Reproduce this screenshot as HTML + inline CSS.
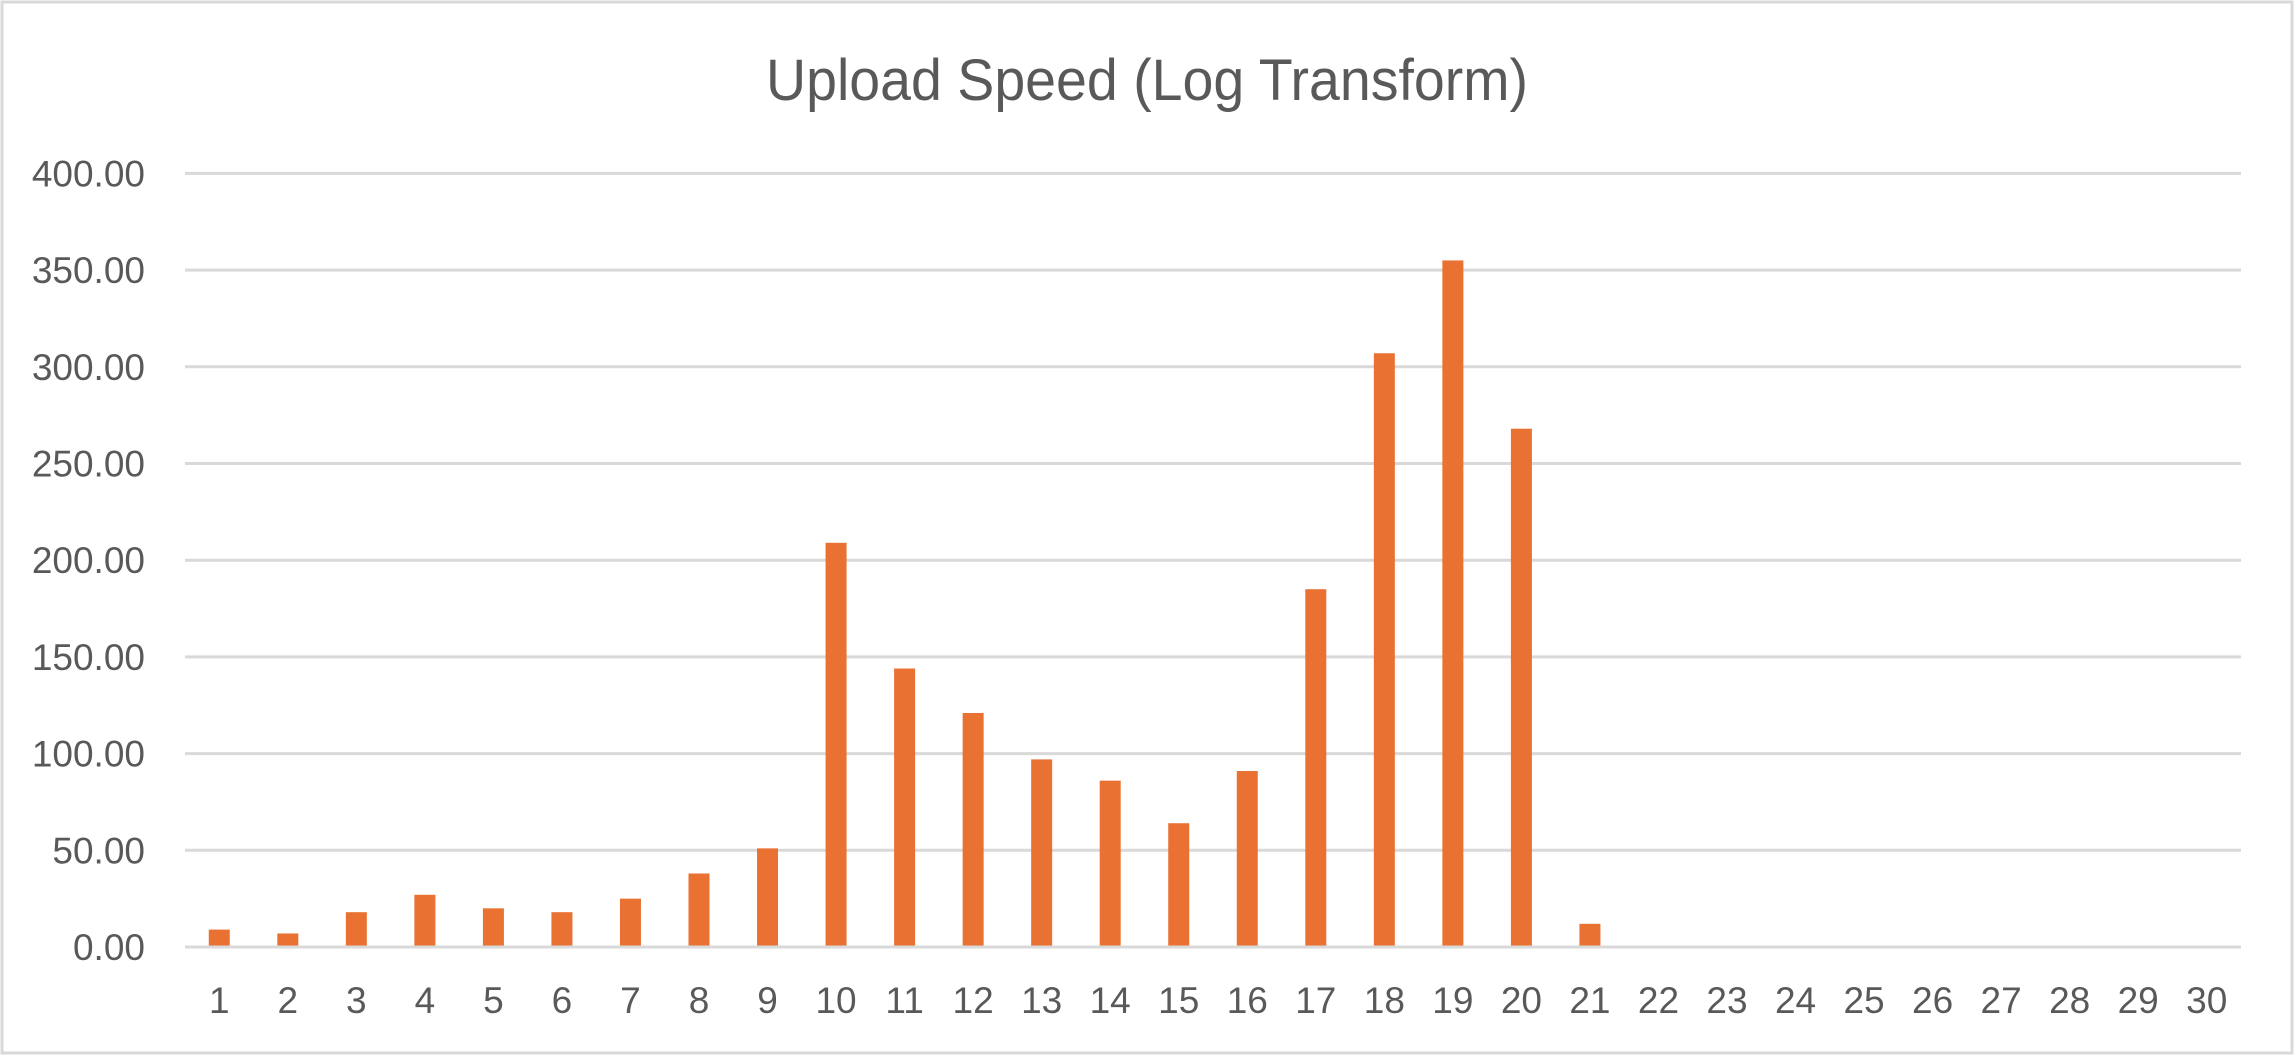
<!DOCTYPE html>
<html><head><meta charset="utf-8"><style>
html,body{margin:0;padding:0;background:#fff;}
svg{display:block;font-family:"Liberation Sans",Arial,sans-serif;}
</style></head><body>
<svg id="chart" width="2294" height="1055" viewBox="0 0 2294 1055" xmlns="http://www.w3.org/2000/svg">
<rect x="2" y="2" width="2290" height="1051" fill="#fff" stroke="#d9d9d9" stroke-width="3"/>
<text x="1147" y="100" text-anchor="middle" font-size="58" fill="#595959" textLength="762" lengthAdjust="spacingAndGlyphs">Upload Speed (Log Transform)</text>
<g id="grid"></g><g id="bars"></g><g id="ylab"></g><g id="xlab"></g>
</svg>
<script>
const categories=[1,2,3,4,5,6,7,8,9,10,11,12,13,14,15,16,17,18,19,20,21,22,23,24,25,26,27,28,29,30];
const values=[9,7,18,27,20,18,25,38,51,209,144,121,97,86,64,91,185,307,355,268,12,0,0,0,0,0,0,0,0,0];
const yTicks=[0,50,100,150,200,250,300,350,400];
const NS="http://www.w3.org/2000/svg";
const plotL=185,plotR=2241,y0=947,yTop=173.4,yMax=400;
const step=(plotR-plotL)/categories.length;
function y(v){return y0-(v/yMax)*(y0-yTop);}
function x(i){return plotL+step*(i+0.5);}
function mk(t,a,p){const e=document.createElementNS(NS,t);for(const k in a)e.setAttribute(k,a[k]);p.appendChild(e);return e;}
const grid=document.getElementById('grid'),bars=document.getElementById('bars'),yl=document.getElementById('ylab'),xl=document.getElementById('xlab');
yTicks.forEach(v=>{
 const l=mk('line',{x1:plotL,x2:plotR,y1:y(v),y2:y(v),stroke:'#d9d9d9','stroke-width':3},grid);
 
 
 const t=mk('text',{x:145,y:y(v)+13,'text-anchor':'end','font-size':37,fill:'#595959'},yl);
 t.textContent=v.toFixed(2);
 
 
});
const bw=21;
values.forEach((v,i)=>{
 if(v>0){
 const r=mk('rect',{x:x(i)-bw/2,y:y(v),width:bw,height:y0-y(v)-1.5,fill:'#e97132'},bars);
 
 
 }
});
categories.forEach((c,i)=>{
 const t=mk('text',{x:x(i),y:1013,'text-anchor':'middle','font-size':37,fill:'#595959'},xl);
 t.textContent=c;
 
 
});
</script>
</body></html>
